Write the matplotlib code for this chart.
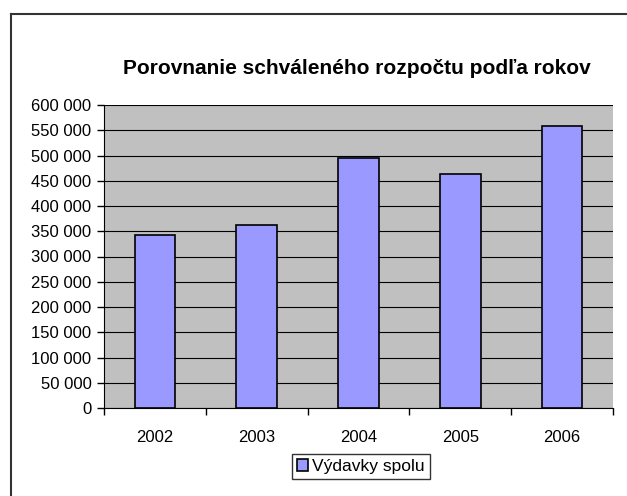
import numpy as np
import matplotlib.pyplot as plt
from matplotlib.lines import Line2D

plt.rcParams['font.family'] = ['Liberation Sans', 'DejaVu Sans']

years = ['2002', '2003', '2004', '2005', '2006']
vydavky = [342000, 362000, 496000, 463000, 558000]
yticks = np.arange(0, 600001, 50000)
ytick_labels = ['0' if v == 0 else '{:,}'.format(v).replace(',', ' ') for v in yticks]

fig = plt.figure(figsize=(6.27, 4.96), dpi=100)
# outer chart border (only left and top edges visible)
fig.add_artist(Line2D([11/627, 11/627], [0, 1 - 14/496], color='#333333', lw=1.5, transform=fig.transFigure))
fig.add_artist(Line2D([11/627, 1], [1 - 14/496, 1 - 14/496], color='#333333', lw=1.5, transform=fig.transFigure))

ax = fig.add_axes([104/627, 1 - 408/496, (613 - 104)/627, (408 - 105)/496])
ax.set_facecolor('#C0C0C0')

x = np.arange(len(years))
ax.bar(x, vydavky, width=0.4, color='#9999FF', edgecolor='black', linewidth=1.2,
       label='Výdavky spolu', zorder=3)

ax.set_xlim(-0.5, len(years) - 0.5)
ax.set_ylim(0, 600000)
ax.set_yticks(yticks)
ax.set_yticklabels(ytick_labels, fontsize=12)
ax.yaxis.grid(True, color='black', linewidth=0.8, zorder=1)
ax.set_axisbelow(True)

ax.set_xticks(np.arange(-0.5, len(years), 1.0))
ax.set_xticklabels([])
ax.set_xticks(x, minor=True)
ax.set_xticklabels(years, minor=True, fontsize=12)
ax.tick_params(axis='x', which='major', direction='out', length=5, width=1, color='black')
ax.tick_params(axis='x', which='minor', length=0, pad=16)
ax.tick_params(axis='y', direction='out', length=5, width=1, pad=4)

for s in ['top', 'right']:
    ax.spines[s].set_visible(False)
ax.spines['left'].set_color('black')
ax.spines['bottom'].set_color('black')

fig.text(357/627, 1 - 68/496, 'Porovnanie schváleného rozpočtu podľa rokov',
         ha='center', va='center', fontsize=15, fontweight='bold')

leg = fig.legend(loc='center', bbox_to_anchor=(361/627, 1 - 466.5/496), fontsize=12.5,
                 frameon=True, fancybox=False, edgecolor='black', handlelength=0.65,
                 handleheight=0.65, handletextpad=0.25, borderpad=0.3, borderaxespad=0)
leg.get_frame().set_linewidth(1.0)

fig.savefig('out.png', dpi=100)
